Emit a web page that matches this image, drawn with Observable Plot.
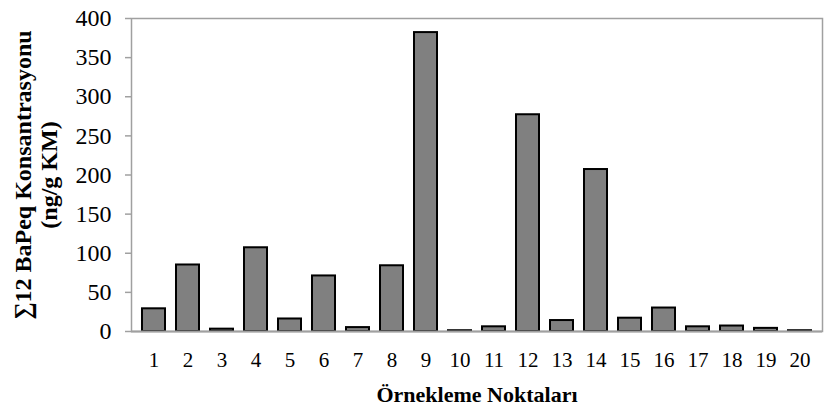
<!DOCTYPE html>
<html>
<head>
<meta charset="utf-8">
<script src="https://cdn.jsdelivr.net/npm/d3@7"></script>
<script src="https://cdn.jsdelivr.net/npm/@observablehq/plot@0.6"></script>
<style>
  html, body { margin: 0; padding: 0; background: #fff; }
  #chart svg { display: block; }
  #chart svg, #chart svg text { font-family: "Liberation Serif", "Times New Roman", Times, serif !important; }
</style>
</head>
<body>
<div id="chart"></div>
<script>
const categories = ["1","2","3","4","5","6","7","8","9","10","11","12","13","14","15","16","17","18","19","20"];
const values = [29, 85, 3, 107, 16, 71, 5, 84, 382, 1, 6, 277, 14, 207, 17, 30, 6, 7, 4, 1];
const yTicks = [0, 50, 100, 150, 200, 250, 300, 350, 400];
const yLabel = "∑12 BaPeq Konsantrasyonu\n(ng/g KM)";
const xLabel = "Örnekleme Noktaları";

const data = categories.map((c, i) => ({ cat: c, value: values[i] }));
const axisColor = "#a0a0a0";

const chart = Plot.plot({
  width: 824,
  height: 405,
  marginLeft: 131,
  marginRight: 2,
  marginTop: 18,
  marginBottom: 74,
  style: { fontSize: "20px", color: "#000", background: "#fff" },
  x: { domain: categories, paddingInner: 0.32, paddingOuter: 0.16, label: null },
  y: { domain: [0, 400], label: null },
  marks: [
    Plot.frame({ stroke: axisColor, strokeWidth: 1.5 }),
    Plot.barY(data, { x: "cat", y: "value", fill: "#808080", stroke: "#000", strokeWidth: 2 }),
    Plot.axisY({ ticks: yTicks, tickSize: 6, tickPadding: 14, stroke: axisColor, strokeWidth: 1.5, fill: "#000", label: null, fontSize: 24 }),
    Plot.axisX({ tickSize: 0, tickPadding: 21, fill: "#000", label: null, fontSize: 21 }),
    Plot.ruleY([0], { stroke: axisColor, strokeWidth: 2 }),
    Plot.text([yLabel], { frameAnchor: "left", dx: -96, rotate: -90, textAnchor: "middle", lineAnchor: "middle", lineHeight: 1.1, fontWeight: "bold", fontSize: 24, fill: "#000" }),
    Plot.text([xLabel], { frameAnchor: "bottom", dy: 70, textAnchor: "middle", lineAnchor: "bottom", fontWeight: "bold", fontSize: 22, fill: "#000" })
  ]
});
document.getElementById("chart").appendChild(chart);
</script>
</body>
</html>
